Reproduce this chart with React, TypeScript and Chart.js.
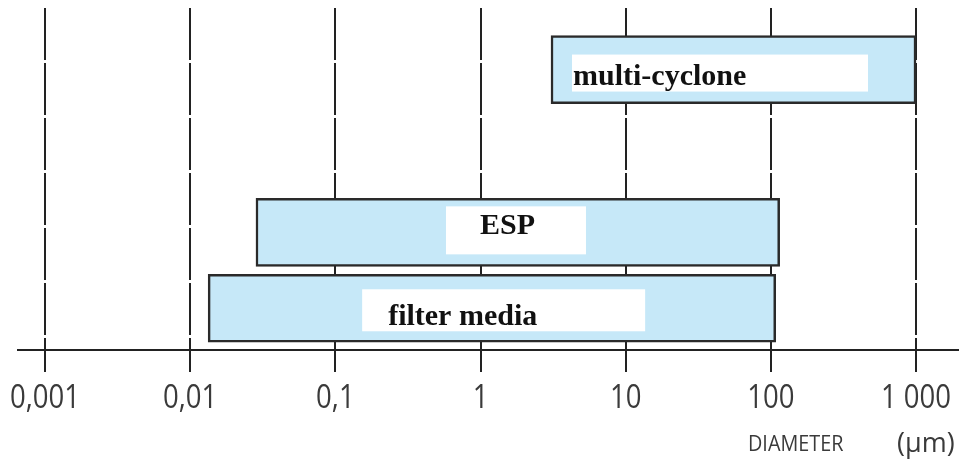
import React, { useEffect, useRef } from "react";
import { Chart, registerables } from "chart.js";

Chart.register(...registerables);

// ---- data ----
const categories = ["multi-cyclone", "ESP", "filter media"];
const rangeStart = [3.06, 0.0284, 0.0133];
const rangeEnd = [1000, 115, 108];
const tickValues = [0.001, 0.01, 0.1, 1, 10, 100, 1000];
const tickLabels = ["0,001", "0,01", "0,1", "1", "10", "100", "1 000"];
const axisTitle = "DIAMETER";
const unitTitle = "(µm)";

// ---- layout (not data) ----
const rowPos = [18, 65.6, 87.8]; // vertical row centres on a 0..100 scale (top to bottom)
const labelBoxes = [
  { dx: 21, dy: 19, w: 296, h: 37, tx: 22, ty: 49 },
  { dx: 190, dy: 8, w: 140, h: 48, tx: 224, ty: 36 },
  { dx: 154, dy: 15, w: 283, h: 42, tx: 180, ty: 51 },
];

function squeezedText(ctx: CanvasRenderingContext2D, text: string, x: number, y: number, sx: number, align: "center" | "left") {
  ctx.save();
  ctx.translate(x, y);
  ctx.scale(sx, 1);
  ctx.textAlign = align;
  ctx.fillText(text, 0, 0);
  ctx.restore();
}

const labelPlugin = {
  id: "labelBoxes",
  afterDatasetsDraw(chart: any) {
    const ctx = chart.ctx;
    const meta = chart.getDatasetMeta(0);
    meta.data.forEach((bar: any, i: number) => {
      const left = Math.min(bar.x, bar.base);
      const top = bar.y - bar.height / 2;
      const b = labelBoxes[i];
      ctx.save();
      ctx.fillStyle = "#ffffff";
      ctx.fillRect(left + b.dx, top + b.dy, b.w, b.h);
      ctx.fillStyle = "#111111";
      ctx.font = "bold 30px 'Liberation Serif', 'DejaVu Serif', serif";
      ctx.textBaseline = "alphabetic";
      ctx.textAlign = "left";
      ctx.fillText(categories[i], left + b.tx, top + b.ty);
      ctx.restore();
    });
  },
  afterDraw(chart: any) {
    const ctx = chart.ctx;
    const xs = chart.scales.x;
    ctx.save();
    ctx.fillStyle = "#3a3a3a";
    ctx.textBaseline = "alphabetic";
    ctx.font = "32px 'Open Sans', sans-serif";
    tickValues.forEach((v, i) => {
      squeezedText(ctx, tickLabels[i], xs.getPixelForValue(v), 408, 0.86, "center");
    });
    ctx.font = "22px 'Open Sans', sans-serif";
    squeezedText(ctx, axisTitle, 748, 451, 0.9, "left");
    ctx.font = "27px 'Open Sans', sans-serif";
    squeezedText(ctx, unitTitle, 897, 452, 1.0, "left");
    ctx.restore();
  },
};

export default function App() {
  const ref = useRef<HTMLCanvasElement | null>(null);
  useEffect(() => {
    if (!ref.current) return;
    const chart = new Chart(ref.current, {
      type: "bar",
      data: {
        datasets: [
          {
            data: categories.map((c, i) => ({ x: [rangeStart[i], rangeEnd[i]], y: rowPos[i] })) as any,
            backgroundColor: "#c6e8f8",
            borderColor: "#2a2a2a",
            borderWidth: 2.5,
            borderSkipped: false,
            barThickness: 68,
          },
        ],
      },
      options: {
        indexAxis: "y",
        animation: false,
        responsive: false,
        layout: { padding: { left: 18, right: 5, top: 8, bottom: 0 } },
        plugins: { legend: { display: false }, tooltip: { enabled: false } },
        scales: {
          x: {
            type: "logarithmic",
            min: Math.pow(10, -3 - 27 / 145.17),
            max: Math.pow(10, 3 + 42 / 145.17),
            afterBuildTicks: (s: any) => {
              s.ticks = tickValues.map((v) => ({ value: v }));
            },
            afterFit: (s: any) => {
              s.height = 114;
            },
            ticks: { display: false },
            grid: {
              color: "#222222",
              lineWidth: 2,
              tickLength: 22,
              drawOnChartArea: true,
              tickColor: "#222222",
            },
            border: { display: true, color: "#222222", width: 2, dash: [52, 3] },
          } as any,
          y: {
            type: "linear",
            display: false,
            offset: false,
            min: 0,
            max: 100,
            reverse: true,
          },
        },
      },
      plugins: [labelPlugin],
    });
    return () => chart.destroy();
  }, []);
  return (
    <div style={{ position: "fixed", left: 0, top: 0, width: 963, height: 464 }}>
      <canvas ref={ref} width={963} height={464} style={{ display: "block" }} />
    </div>
  );
}
